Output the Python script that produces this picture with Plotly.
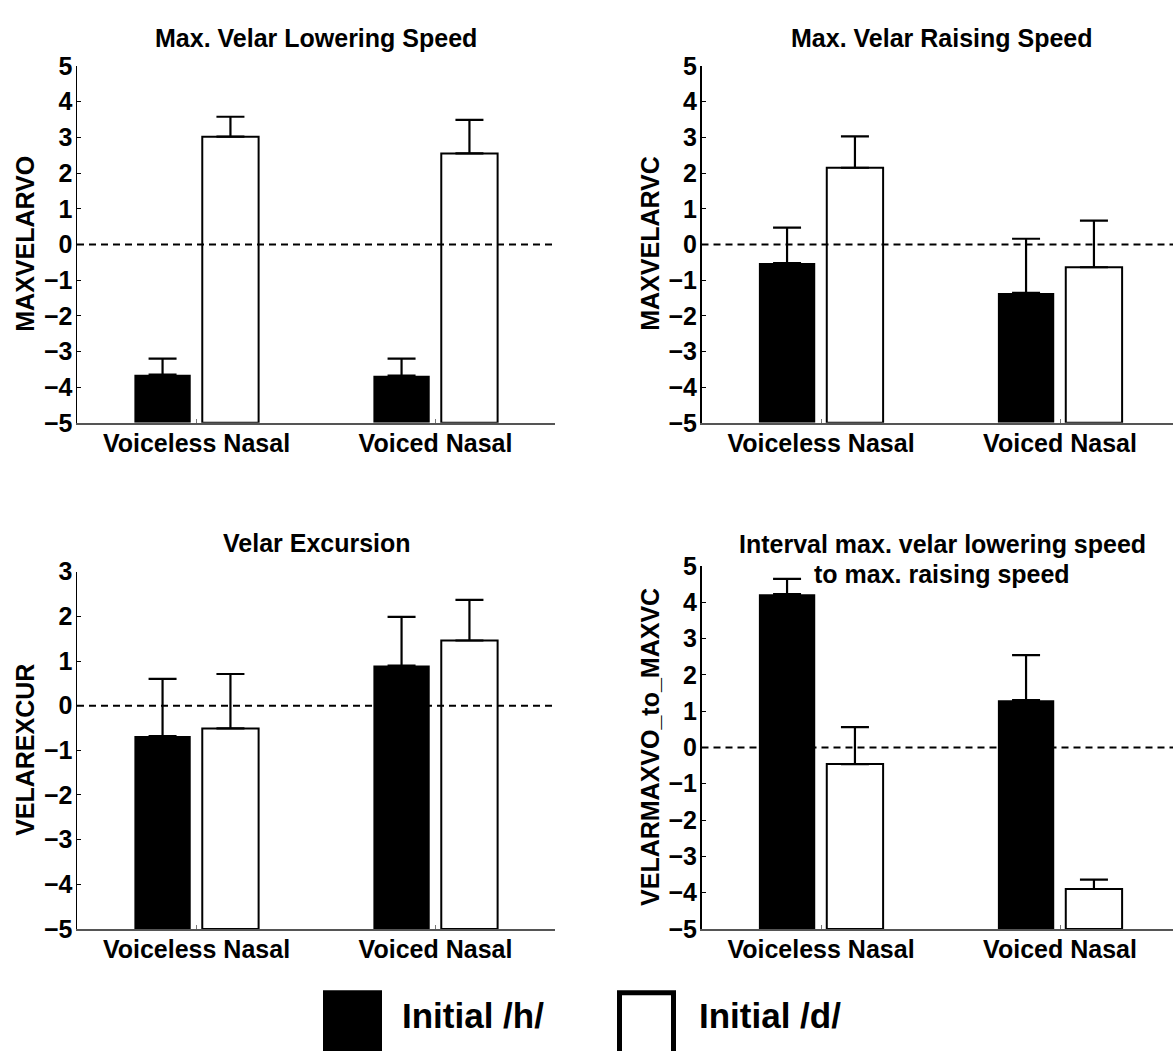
import plotly.graph_objects as go

W, H = 1173, 1051
FONT = "Liberation Sans, Arial, Helvetica, sans-serif"

# ---------------- data ----------------
categories = ["Voiceless Nasal", "Voiced Nasal"]
group_names = ["Initial /h/", "Initial /d/"]
baseline = -5

# Max. Velar Lowering Speed
lowering_h = [-3.65, -3.68]
lowering_h_err = [0.45, 0.48]
lowering_d = [3.02, 2.55]
lowering_d_err = [0.56, 0.94]

# Max. Velar Raising Speed
raising_h = [-0.52, -1.36]
raising_h_err = [0.99, 1.52]
raising_d = [2.15, -0.64]
raising_d_err = [0.88, 1.31]

# Velar Excursion
excursion_h = [-0.68, 0.90]
excursion_h_err = [1.28, 1.09]
excursion_d = [-0.51, 1.46]
excursion_d_err = [1.22, 0.91]

# Interval max. velar lowering speed to max. raising speed
interval_h = [4.22, 1.30]
interval_h_err = [0.42, 1.24]
interval_d = [-0.46, -3.90]
interval_d_err = [1.02, 0.26]

y_ticks_top = [-5, -4, -3, -2, -1, 0, 1, 2, 3, 4, 5]
y_ticks_excursion = [-5, -4, -3, -2, -1, 0, 1, 2, 3]

panels = [
    dict(title=["Max. Velar Lowering Speed"], ylabel="MAXVELARVO",
         h=lowering_h, he=lowering_h_err, d=lowering_d, de=lowering_d_err,
         yticks=y_ticks_top),
    dict(title=["Max. Velar Raising Speed"], ylabel="MAXVELARVC",
         h=raising_h, he=raising_h_err, d=raising_d, de=raising_d_err,
         yticks=y_ticks_top),
    dict(title=["Velar Excursion"], ylabel="VELAREXCUR",
         h=excursion_h, he=excursion_h_err, d=excursion_d, de=excursion_d_err,
         yticks=y_ticks_excursion),
    dict(title=["Interval max. velar lowering speed", "to max. raising speed"],
         ylabel="VELARMAXVO_to_MAXVC",
         h=interval_h, he=interval_h_err, d=interval_d, de=interval_d_err,
         yticks=y_ticks_top),
]

# ---------------- layout geometry (pixels) ----------------
def fx(p):
    return p / W


def fy(p):
    return 1 - p / H


UNIT = 239.0  # px per category
geom = [
    dict(x0=77, x1=555, yt=53.5, yb=420, tys=[25], tx=316, ylx=25, yly=236),
    dict(x0=701.5, x1=W, yt=53.5, yb=420, tys=[25], tx=942, ylx=650, yly=236),
    dict(x0=77, x1=555, yt=573, yb=940, tys=[543], tx=317, ylx=25, yly=756),
    dict(x0=701.5, x1=W, yt=567, yb=940, tys=[544, 575], tx=942, ylx=650, yly=753),
]

fig = go.Figure()
layout = dict(
    width=W, height=H,
    margin=dict(l=0, r=0, t=0, b=0),
    paper_bgcolor="white", plot_bgcolor="rgba(0,0,0,0)",
    barmode="group", bargap=0.432, bargroupgap=0.17,
    showlegend=False,
    font=dict(family=FONT, color="black", size=25, weight="bold"),
)
annotations = []
shapes = []

for i, (p, g) in enumerate(zip(panels, geom)):
    n = "" if i == 0 else str(i + 1)
    xa, ya = "x" + n, "y" + n
    for vals, errs, fill, name in [(p["h"], p["he"], "black", group_names[0]),
                                   (p["d"], p["de"], "white", group_names[1])]:
        fig.add_trace(go.Bar(
            x=categories, y=[v - baseline for v in vals], base=baseline,
            name=name, xaxis=xa, yaxis=ya,
            marker=dict(color=fill, line=dict(color="black", width=2 if fill == "white" else 0)),
            error_y=dict(type="data", symmetric=False, array=errs,
                         arrayminus=[0] * len(errs), color="black",
                         thickness=2.2, width=14),
        ))
    xr_hi = -0.5 + (g["x1"] - g["x0"]) / UNIT
    layout["xaxis" + n] = dict(
        domain=[fx(g["x0"]), fx(g["x1"])], anchor=ya,
        type="category", categoryorder="array", categoryarray=categories,
        range=[-0.5, xr_hi], showgrid=False, zeroline=False,
        showline=True, linecolor="#555555", linewidth=2,
        ticks="inside", ticklen=4, tickwidth=1, tickcolor="#777777",
        ticklabelstandoff=-3,
        tickfont=dict(family=FONT, size=25, color="black", weight="bold"),
        fixedrange=True,
    )
    layout["yaxis" + n] = dict(
        domain=[fy(g["yb"]), fy(g["yt"])], anchor=xa,
        range=[min(p["yticks"]), max(p["yticks"])],
        tickmode="array", tickvals=p["yticks"],
        showgrid=False, zeroline=False,
        showline=True, linecolor="black", linewidth=1.5,
        ticks="inside", ticklen=4, tickwidth=1, tickcolor="black",
        ticklabelstandoff=-2,
        tickfont=dict(family=FONT, size=25, color="black", weight="bold"),
        fixedrange=True,
    )
    # dashed zero line
    shapes.append(dict(type="line", xref=xa + " domain", x0=0, x1=1,
                       yref=ya, y0=0, y1=0, layer="above",
                       line=dict(color="black", width=2, dash="7px,5px")))
    # titles
    for t, ty in zip(p["title"], g["tys"]):
        annotations.append(dict(text=t, x=fx(g["tx"]), y=fy(ty), xref="paper", yref="paper",
                                xanchor="center", yanchor="middle", showarrow=False,
                                font=dict(family=FONT, size=25, color="black", weight="bold")))
    # y label
    annotations.append(dict(text=p["ylabel"], x=fx(g["ylx"]), y=fy(g["yly"]),
                            xref="paper", yref="paper", textangle=-90,
                            xanchor="center", yanchor="middle", showarrow=False,
                            font=dict(family=FONT, size=25, color="black", weight="bold")))

# ---------------- legend ----------------
shapes.append(dict(type="rect", xref="paper", yref="paper",
                   x0=fx(323), x1=fx(382), y0=fy(1003), y1=fy(1070),
                   fillcolor="black", line=dict(width=0), layer="above"))
shapes.append(dict(type="rect", xref="paper", yref="paper",
                   x0=fx(619.5), x1=fx(673.5), y0=fy(1005.5), y1=fy(1070),
                   fillcolor="white", line=dict(color="black", width=5), layer="above"))
annotations.append(dict(text=group_names[0], x=fx(400), y=fy(1029), xref="paper", yref="paper",
                        xanchor="left", yanchor="middle", showarrow=False,
                        font=dict(family=FONT, size=35, color="black", weight="bold")))
annotations.append(dict(text=group_names[1], x=fx(697), y=fy(1029), xref="paper", yref="paper",
                        xanchor="left", yanchor="middle", showarrow=False,
                        font=dict(family=FONT, size=35, color="black", weight="bold")))

layout["annotations"] = annotations
layout["shapes"] = shapes
fig.update_layout(**layout)
fig.write_html(
    "out.html",
    config={"displayModeBar": False, "staticPlot": True},
    post_script="document.body.style.margin='0px';document.body.style.overflow='hidden';",
)
